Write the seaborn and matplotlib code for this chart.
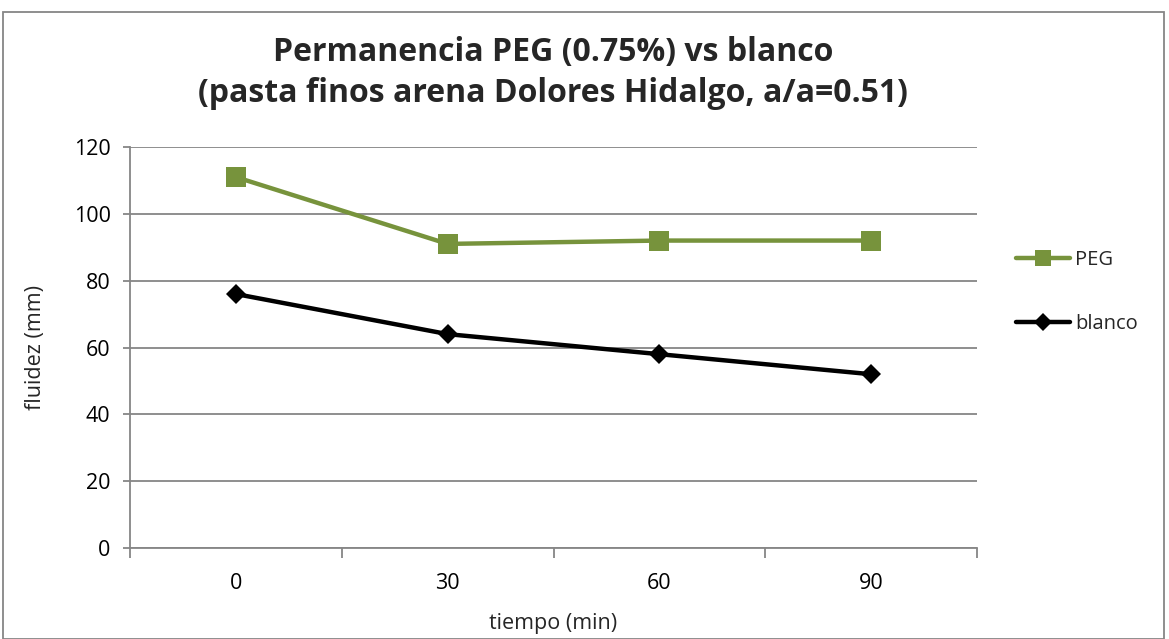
import matplotlib
matplotlib.use("Agg")
import matplotlib.pyplot as plt
import matplotlib.patches as mpatches
import seaborn as sns
import pandas as pd
from matplotlib.ticker import FixedLocator

# Series data
tiempo = ["0", "30", "60", "90"]
peg = [111, 91, 92, 92]
blanco = [76, 64, 58, 52]
series_names = ["PEG", "blanco"]
y_ticks = [0, 20, 40, 60, 80, 100, 120]
title_lines = ["Permanencia PEG (0.75%) vs blanco",
               "(pasta finos arena Dolores Hidalgo, a/a=0.51)"]

sns.set_theme(style="white")
plt.rcParams["font.family"] = ["Open Sans", "DejaVu Sans"]

df = pd.DataFrame({
    "tiempo": tiempo * 2,
    "fluidez": peg + blanco,
    "serie": [series_names[0]] * len(tiempo) + [series_names[1]] * len(tiempo),
})

green = "#77933C"
grid_gray = "#868686"
W, H = 1169, 639
fig = plt.figure(figsize=(W / 100, H / 100), dpi=100)
fig.patch.set_facecolor("white")
ax = fig.add_axes([130 / W, 1 - 548 / H, (977 - 130) / W, (548 - 147) / H])

sns.pointplot(
    data=df, x="tiempo", y="fluidez", hue="serie", order=tiempo,
    hue_order=series_names, palette={"PEG": green, "blanco": "black"},
    markers=["s", "D"], linestyles=["-", "-"], linewidth=3.2,
    markersize=10, errorbar=None, ax=ax, legend=False,
)
for line, ms in zip(ax.lines, [14, 10]):
    line.set_markersize(ms)
    line.set_markeredgewidth(0)

ax.set_xlim(-0.5, len(tiempo) - 0.5)
ax.set_ylim(0, 120)
ax.set_yticks(y_ticks)
ax.yaxis.grid(True, color=grid_gray, linewidth=1.3)
ax.set_axisbelow(True)

for s in ["top", "right"]:
    ax.spines[s].set_visible(False)
for s in ["left", "bottom"]:
    ax.spines[s].set_color(grid_gray)
    ax.spines[s].set_linewidth(1.3)

ax.tick_params(axis="y", which="major", direction="out", length=5, width=1.3,
               color=grid_gray, labelsize=15.5, labelcolor="black", pad=9, left=True)
ax.tick_params(axis="x", which="major", length=0, labelsize=15.5, labelcolor="black", pad=18)
ax.xaxis.set_minor_locator(FixedLocator([i - 0.5 for i in range(len(tiempo) + 1)]))
ax.tick_params(axis="x", which="minor", direction="out", length=7, width=1.3,
               color=grid_gray, bottom=True)

ax.set_xlabel("tiempo (min)", fontsize=15.5)
ax.set_ylabel("fluidez (mm)", fontsize=15.5)
ax.xaxis.set_label_coords(0.4994, -0.188)
ax.yaxis.set_label_coords(-0.112, 0.5)
ax.xaxis.label.set_va("center")
ax.yaxis.label.set_va("center")

fig.text(553 / W, 1 - 61 / H, title_lines[0], ha="center", va="baseline",
         fontsize=23, fontweight="bold")
fig.text(553 / W, 1 - 102 / H, title_lines[1], ha="center", va="baseline",
         fontsize=23, fontweight="bold")

handles = [
    plt.Line2D([], [], color=green, marker="s", markersize=11, linewidth=3.2, markeredgewidth=0),
    plt.Line2D([], [], color="black", marker="D", markersize=9.5, linewidth=3.2, markeredgewidth=0),
]
fig.legend(handles, series_names, loc="center left", bbox_to_anchor=(1008 / W, 1 - 292 / H),
           frameon=False, fontsize=14.5, handlelength=2.7, handletextpad=0.25,
           labelspacing=2.2, borderaxespad=0)

# outer chart border
fig.patches.append(mpatches.Rectangle((3 / W, 0), 1161 / W, 1 - 12 / H,
                                      transform=fig.transFigure, fill=False,
                                      edgecolor=grid_gray, linewidth=1.3))

fig.savefig("out.png", dpi=100, facecolor="white")
